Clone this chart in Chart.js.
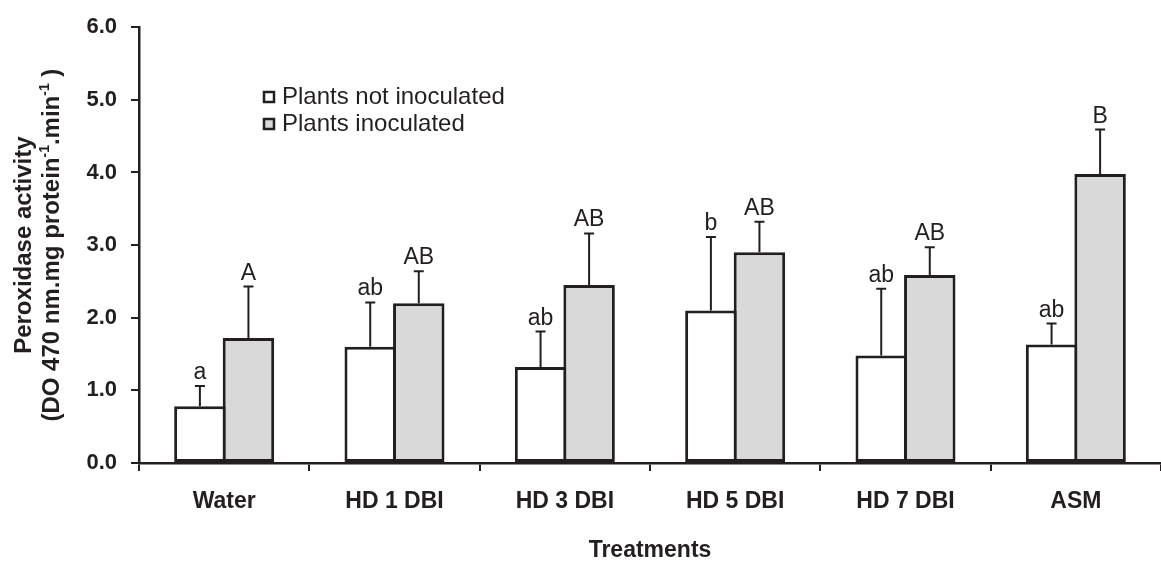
<!DOCTYPE html>
<html>
<head>
<meta charset="utf-8">
<script src="https://cdn.jsdelivr.net/npm/chart.js@4/dist/chart.umd.min.js"></script>
<style>
  body { margin: 0; background: #fff; }
  #wrap { width: 1161px; height: 562px; }
</style>
</head>
<body>
<div id="wrap"><canvas id="bar" width="1161" height="562"></canvas></div>
<script>
const categories = ['Water', 'HD 1 DBI', 'HD 3 DBI', 'HD 5 DBI', 'HD 7 DBI', 'ASM'];
const notInoculated = [0.78, 1.60, 1.32, 2.10, 1.48, 1.63];
const notInoculatedErr = [0.28, 0.61, 0.49, 1.01, 0.92, 0.29];
const inoculated = [1.72, 2.20, 2.45, 2.90, 2.59, 3.98];
const inoculatedErr = [0.71, 0.44, 0.71, 0.42, 0.38, 0.61];
const notInoculatedLetters = ['a', 'ab', 'ab', 'b', 'ab', 'ab'];
const inoculatedLetters = ['A', 'AB', 'AB', 'AB', 'AB', 'B'];

const ink = '#231f20';
const font = 'Arial, "Liberation Sans", sans-serif';

// error bars + significance letters on top of each bar
const errorBars = {
    id: 'errorBars',
    afterDatasetsDraw(chart) {
        const ctx = chart.ctx;
        const y = chart.scales.y;
        chart.data.datasets.forEach((ds, i) => {
            const meta = chart.getDatasetMeta(i);
            meta.data.forEach((bar, j) => {
                const top = y.getPixelForValue(ds.data[j] + ds.err[j]);
                ctx.save();
                ctx.strokeStyle = ink;
                ctx.lineWidth = 2;
                ctx.beginPath();
                ctx.moveTo(bar.x, bar.y);
                ctx.lineTo(bar.x, top);
                ctx.moveTo(bar.x - 5, top);
                ctx.lineTo(bar.x + 5, top);
                ctx.stroke();
                ctx.fillStyle = ink;
                ctx.font = '23px ' + font;
                ctx.textAlign = 'center';
                ctx.textBaseline = 'alphabetic';
                ctx.fillText(ds.letters[j], bar.x, top - 7);
                ctx.restore();
            });
        });
    }
};

// legend box inside plot + rotated y title with superscripts
const extras = {
    id: 'extras',
    afterDraw(chart) {
        const ctx = chart.ctx;
        ctx.save();
        ctx.textBaseline = 'middle';
        ctx.font = '24px ' + font;
        chart.data.datasets.forEach((ds, i) => {
            const ly = 97 + i * 27;
            ctx.fillStyle = ds.backgroundColor;
            ctx.strokeStyle = ink;
            ctx.lineWidth = 2.5;
            ctx.fillRect(264, ly - 5, 10, 10);
            ctx.strokeRect(264, ly - 5, 10, 10);
            ctx.fillStyle = ink;
            ctx.fillText(ds.label, 282, ly);
        });
        ctx.restore();

        const cy = (chart.chartArea.top + chart.chartArea.bottom) / 2;
        ctx.save();
        ctx.fillStyle = ink;
        ctx.translate(0, cy);
        ctx.rotate(-Math.PI / 2);
        ctx.textBaseline = 'alphabetic';
        ctx.textAlign = 'center';
        ctx.font = 'bold 24px ' + font;
        ctx.fillText('Peroxidase activity', 0, 31);

        const parts = [
            ['(DO 470 nm.mg protein', false],
            ['-1', true],
            ['.min', false],
            ['-1', true],
            [' )', false]
        ];
        const big = 'bold 24px ' + font, small = 'bold 14px ' + font;
        let total = 0;
        parts.forEach(p => { ctx.font = p[1] ? small : big; total += ctx.measureText(p[0]).width; });
        ctx.textAlign = 'left';
        let x = -total / 2;
        parts.forEach(p => {
            ctx.font = p[1] ? small : big;
            ctx.fillText(p[0], x, p[1] ? 49 : 59);
            x += ctx.measureText(p[0]).width;
        });
        ctx.restore();
    }
};

new Chart(document.getElementById('bar').getContext('2d'), {
    type: 'bar',
    data: {
        labels: categories,
        datasets: [{
            label: 'Plants not inoculated',
            data: notInoculated,
            err: notInoculatedErr,
            letters: notInoculatedLetters,
            backgroundColor: '#ffffff',
            borderColor: ink,
            borderWidth: 3,
            borderSkipped: false
        }, {
            label: 'Plants inoculated',
            data: inoculated,
            err: inoculatedErr,
            letters: inoculatedLetters,
            backgroundColor: '#d9d9d9',
            borderColor: ink,
            borderWidth: 3,
            borderSkipped: false
        }]
    },
    options: {
        responsive: false,
        animation: false,
        datasets: { bar: { categoryPercentage: 0.57, barPercentage: 1.06 } },
        layout: { padding: { top: 22, right: 0, bottom: 0, left: 0 } },
        plugins: { legend: { display: false }, tooltip: { enabled: false } },
        scales: {
            x: {
                grid: { drawOnChartArea: false, tickLength: 8, color: ink, lineWidth: 2 },
                border: { color: ink, width: 2.5 },
                ticks: { color: ink, padding: 17, font: { family: font, size: 23, weight: 'bold' } },
                title: {
                    display: true, text: 'Treatments', color: ink,
                    padding: 0,
                    font: { family: font, size: 23, weight: 'bold', lineHeight: 1 }
                },
                afterFit(s) { s.height = 99; }
            },
            y: {
                min: 0, max: 6,
                grid: { drawOnChartArea: false, tickLength: 8, color: ink, lineWidth: 2 },
                border: { color: ink, width: 2.5 },
                ticks: {
                    stepSize: 1, color: ink, padding: 14,
                    font: { family: font, size: 22, weight: 'bold' },
                    callback: v => v.toFixed(1)
                },
                afterFit(s) { s.width = 139; }
            }
        }
    },
    plugins: [errorBars, extras]
});
</script>
</body>
</html>
